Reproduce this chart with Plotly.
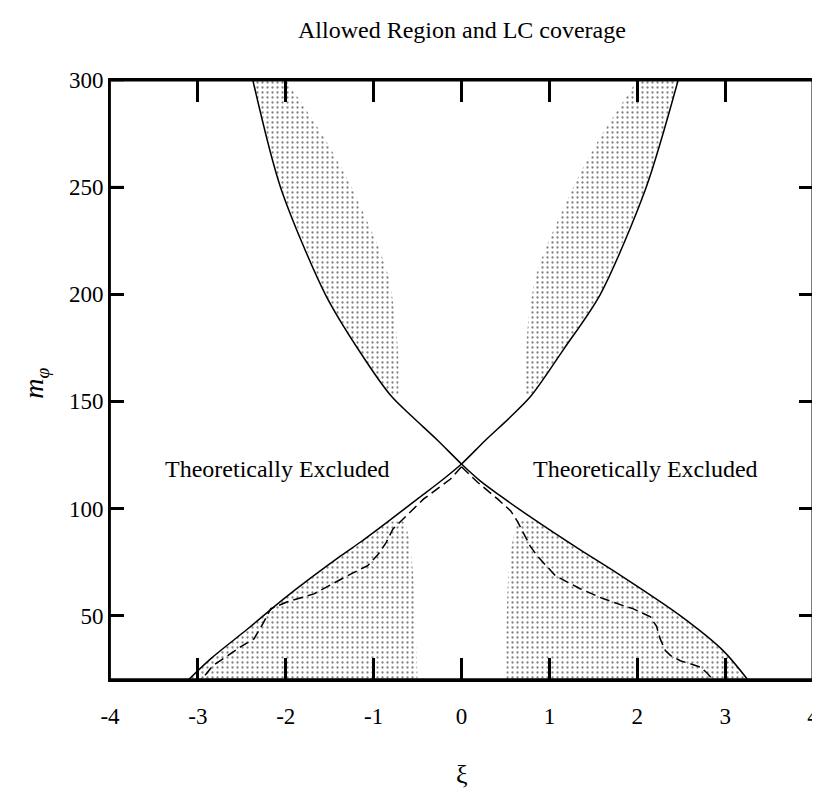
import numpy as np
import plotly.graph_objects as go

# ---------------- data ----------------
# Solid boundary curve A (upper-left -> crossing -> lower-right)
curveA_x = [-2.375, -2.06, -1.55, -1.17, -0.80, -0.55, -0.27, 0.0, 0.216, 0.443, 0.784, 1.352, 1.727, 2.489, 2.977, 3.26]
curveA_y = [300, 250, 200, 174, 152.5, 142.5, 131.8, 120.8, 112.8, 105.9, 96.1, 80.7, 71.0, 50, 33.7, 20]
# Solid boundary curve B (upper-right -> crossing -> lower-left)
curveB_x = [2.466, 2.102, 1.58, 1.16, 0.79, 0.55, 0.27, 0.0, -0.205, -0.5, -0.841, -1.148, -1.375, -2.023, -2.432, -2.852, -3.11]
curveB_y = [300, 250, 200, 174.2, 152.5, 142.5, 131.8, 120.8, 113.8, 104.5, 93.8, 84.4, 77.9, 57.9, 43.9, 30.0, 20]

# Inner edges of the four LC-coverage (dotted) regions, top -> bottom
ul_edge_x = [-2.0, -1.818, -1.568, -1.352, -1.25, -1.08, -0.932, -0.818, -0.75, -0.716, -0.716]
ul_edge_y = [300, 289.3, 273.5, 258.1, 249.8, 234.8, 220.9, 206.9, 188.3, 169.6, 152.9]
ur_edge_x = [2.0, 1.83, 1.58, 1.37, 1.27, 1.10, 0.95, 0.83, 0.76, 0.725, 0.72]
ur_edge_y = [300, 289.3, 273.5, 258.1, 249.8, 234.8, 220.9, 206.9, 188.3, 169.6, 152.9]
ll_edge_x = [-0.64, -0.58, -0.545, -0.52, -0.50]
ll_edge_y = [94, 82.6, 67, 45, 20]
lr_edge_x = [0.65, 0.59, 0.56, 0.53, 0.51, 0.51]
lr_edge_y = [95.2, 87, 79.8, 68.6, 45, 20]

# Dashed curves
dashL_x = [0.0, -0.125, -0.43, -0.58, -0.69, -0.78, -0.86, -0.95, -1.07, -1.3, -1.68, -1.98, -2.17,
           -2.26, -2.36, -2.51, -2.66, -2.83, -2.93, -2.97]
dashL_y = [119.5, 113.8, 104.5, 98.4, 94.2, 90.5, 84, 78.5, 73.3, 68.6, 60.2, 56.5, 53.3,
           46.3, 39.3, 35.6, 31.4, 26.7, 21.6, 20]
dashR_x = [0.0, 0.18, 0.41, 0.56, 0.64, 0.78, 0.86, 1.07, 1.35, 1.61, 1.84, 1.95, 2.15,
           2.22, 2.26, 2.32, 2.38, 2.49, 2.6, 2.72, 2.8, 2.85]
dashR_y = [119.5, 112.4, 104.5, 98.9, 93.8, 82.6, 78, 68.6, 62.6, 58, 54.7, 53.3, 49.5,
           45, 39.3, 33.7, 31.4, 29, 27.6, 26, 23, 20.7]

x_range = [-4, 4]
y_range = [20, 300]
x_ticks = [-4, -3, -2, -1, 0, 1, 2, 3, 4]
y_ticks = [50, 100, 150, 200, 250, 300]

title_text = "Allowed Region and LC coverage"
region_label = "Theoretically Excluded"
label_pos_x = [-2.09, 2.09]
label_pos_y = [118.5, 118.5]

# ---------------- helpers ----------------
def part(xs, ys, y0, y1):
    xs = np.asarray(xs, float)
    ys = np.asarray(ys, float)
    order = np.argsort(ys)
    yy, xx = ys[order], xs[order]
    sel = yy[(yy > y0) & (yy < y1)]
    grid = np.concatenate([[y0], sel, [y1]])
    return list(np.interp(grid, yy, xx)), list(grid)


def polygon(curve_x, curve_y, edge_x, edge_y):
    ylo, yhi = min(edge_y), max(edge_y)
    cx, cy = part(curve_x, curve_y, ylo, yhi)
    return cx + list(edge_x) + [cx[0]], cy + list(edge_y) + [cy[0]]


FONT = "Liberation Serif"
fig = go.Figure()

pattern = dict(shape=".", fgcolor="black", bgcolor="white", size=5, solidity=0.16)
for cx, cy, ex, ey in [
    (curveA_x, curveA_y, ul_edge_x, ul_edge_y),
    (curveB_x, curveB_y, ur_edge_x, ur_edge_y),
    (curveB_x, curveB_y, ll_edge_x, ll_edge_y),
    (curveA_x, curveA_y, lr_edge_x, lr_edge_y),
]:
    px_, py_ = polygon(cx, cy, ex, ey)
    fig.add_trace(go.Scatter(x=px_, y=py_, mode="lines", fill="toself",
                             fillcolor="rgba(0,0,0,0)", fillpattern=pattern,
                             line=dict(width=0), hoverinfo="skip", showlegend=False))

for cx, cy in [(curveA_x, curveA_y), (curveB_x, curveB_y)]:
    fig.add_trace(go.Scatter(x=cx, y=cy, mode="lines",
                             line=dict(color="black", width=1.5, shape="spline", smoothing=0.8),
                             showlegend=False))

for dx, dy in [(dashL_x, dashL_y), (dashR_x, dashR_y)]:
    fig.add_trace(go.Scatter(x=dx, y=dy, mode="lines",
                             line=dict(color="black", width=1.5, dash="10px,5px"),
                             showlegend=False))

for lx, ly in zip(label_pos_x, label_pos_y):
    fig.add_annotation(x=lx, y=ly, text=region_label, showarrow=False,
                       xanchor="center", yanchor="middle",
                       font=dict(family=FONT, size=24, color="black"))

# inward tick marks on the left frame, anchored at the axis minimum
for yt in y_ticks:
    fig.add_shape(type="line", xref="x", yref="y", xsizemode="pixel", xanchor=x_range[0],
                  x0=0, x1=14, y0=yt, y1=yt,
                  line=dict(color="black", width=2.5), layer="above")

# frame (different weights as in the reference)
for (x0, y0, x1, y1, w) in [(0, 0, 1, 0, 3.5), (0, 1, 1, 1, 3), (1, 0, 1, 1, 3), (0, 0, 0, 1, 1.8)]:
    fig.add_shape(type="line", xref="paper", yref="paper", x0=x0, y0=y0, x1=x1, y1=y1,
                  line=dict(color="black", width=w), layer="above")

fig.add_annotation(xref="paper", yref="paper", x=0.5, y=1.083, text=title_text,
                   xanchor="center", yanchor="middle",
                   showarrow=False, font=dict(family=FONT, size=24, color="black"))
fig.add_annotation(xref="paper", yref="paper", x=0.5, y=-0.158, text="ξ",
                   xanchor="center", yanchor="middle",
                   showarrow=False, font=dict(family=FONT, size=26, color="black"))
fig.add_annotation(xref="paper", yref="paper", x=-0.107, y=0.495, textangle=-90,
                   xanchor="center", yanchor="middle",
                   text="<i>m</i><sub><i>φ</i></sub>", showarrow=False,
                   font=dict(family=FONT, size=28, color="black"))

fig.update_xaxes(range=x_range, tickvals=x_ticks, ticktext=[str(v) for v in x_ticks],
                 ticks="inside", ticklen=22, tickwidth=2.5, tickcolor="black",
                 showline=True, linecolor="black", linewidth=2, mirror="ticks",
                 showgrid=False, zeroline=False, automargin=False,
                 tickfont=dict(family=FONT, size=23, color="black"), ticklabelstandoff=14)
fig.update_yaxes(range=y_range, tickvals=y_ticks, ticktext=[str(v) for v in y_ticks],
                 ticks="inside", ticklen=14, tickwidth=2.5, tickcolor="black",
                 showline=True, linecolor="black", linewidth=2, mirror="ticks",
                 showgrid=False, zeroline=False, automargin=False,
                 tickfont=dict(family=FONT, size=23, color="black"))

fig.update_layout(width=812, height=790, margin=dict(l=102, r=7, t=72, b=118),
                  plot_bgcolor="white", paper_bgcolor="white", showlegend=False)

fig.write_html("out.html")
